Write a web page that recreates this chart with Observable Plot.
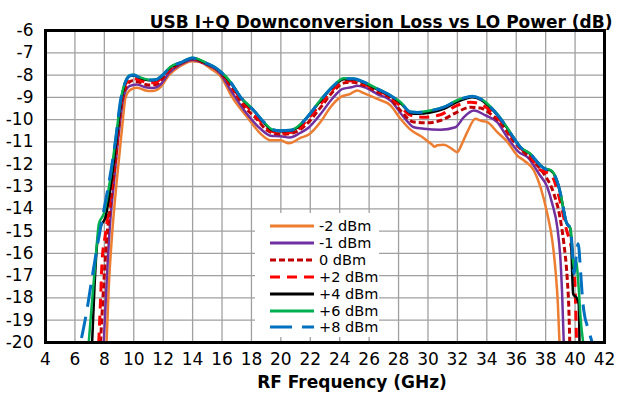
<!DOCTYPE html>
<html>
<head>
<meta charset="utf-8">
<script src="https://cdn.jsdelivr.net/npm/d3@7"></script>
<script src="https://cdn.jsdelivr.net/npm/@observablehq/plot@0.6"></script>
<style>
  html, body { margin: 0; padding: 0; background: white; }
  #wrap { position: relative; width: 620px; height: 400px; font-family: "DejaVu Sans", sans-serif; }
  #legend { position: absolute; left: 255px; top: 213px; width: 124px; height: 124px; background: white; overflow: visible; }
  .row { position: absolute; left: 0; height: 16px; line-height: 16px; font-size: 14.5px; white-space: nowrap; color: black; }
  .row svg { position: absolute; left: 15px; top: 5px; }
  .row span { position: absolute; left: 64px; top: 0; }
</style>
</head>
<body>
<div id="wrap"></div>
<script>
const title = "USB I+Q Downconversion Loss vs LO Power (dB)";
const xLabel = "RF Frequency (GHz)";
const xTicks = [4,6,8,10,12,14,16,18,20,22,24,26,28,30,32,34,36,38,40,42];
const yTicks = [-20,-19,-18,-17,-16,-15,-14,-13,-12,-11,-10,-9,-8,-7,-6];

const seriesNames = ["-2 dBm","-1 dBm","0 dBm","+2 dBm","+4 dBm","+6 dBm","+8 dBm"];

// [frequency GHz, loss dB]
const lossM2 = [[8.15,-20],[8.3,-17.52],[8.53,-15.12],[8.87,-12.58],[9.21,-10.34],[9.44,-9.0],[9.7,-8.7],[9.89,-8.62],[10.23,-8.57],[10.8,-8.69],[11.25,-8.72],[11.82,-8.54],[12.38,-8.02],[13.06,-7.64],[13.97,-7.38],[14.5,-7.42],[15.2,-7.7],[15.9,-8.05],[16.7,-9.0],[17.8,-9.96],[18.63,-10.64],[19.3,-10.93],[19.98,-10.93],[20.54,-11.06],[21.33,-10.82],[21.9,-10.67],[22.69,-10.11],[23.37,-9.44],[24.05,-8.99],[24.73,-8.84],[25.19,-8.69],[25.64,-8.81],[26.55,-9.07],[27.45,-9.36],[28.13,-9.96],[28.81,-10.45],[29.72,-10.83],[30.29,-11.13],[30.45,-11.22],[30.63,-11.15],[31.08,-11.13],[31.6,-11.3],[31.99,-11.46],[32.3,-11.1],[32.67,-10.56],[33.23,-9.96],[33.6,-10.05],[34.03,-10.11],[34.71,-10.56],[35.4,-11.0],[36.07,-11.61],[36.52,-11.83],[37.2,-12.28],[37.65,-13.03],[38.11,-14.22],[38.45,-15.42],[38.67,-16.77],[38.83,-18.26],[38.94,-20]];

const lossM1 = [[7.96,-20],[8.15,-17.37],[8.37,-14.82],[8.64,-12.88],[8.98,-10.64],[9.3,-9.0],[9.7,-8.5],[10.2,-8.42],[10.8,-8.55],[11.3,-8.58],[11.85,-8.4],[12.4,-7.9],[13.1,-7.55],[13.97,-7.32],[14.8,-7.48],[15.9,-7.95],[16.6,-8.7],[17.7,-9.75],[18.6,-10.4],[19.3,-10.72],[20.0,-10.75],[20.6,-10.8],[21.3,-10.6],[21.9,-10.35],[22.7,-9.75],[23.5,-9.05],[24.2,-8.62],[24.8,-8.55],[25.2,-8.48],[25.7,-8.55],[26.55,-8.85],[27.45,-9.14],[28.36,-9.89],[29.04,-10.34],[29.72,-10.41],[30.85,-10.45],[31.87,-10.34],[32.44,-9.89],[33.12,-9.59],[33.91,-9.81],[34.71,-10.11],[35.4,-10.8],[36.18,-11.46],[36.8,-11.7],[37.54,-12.43],[38.11,-13.03],[38.45,-13.78],[38.79,-14.82],[39.01,-16.32],[39.12,-17.82],[39.23,-20]];

const loss0 = [[7.74,-20],[7.96,-17.37],[8.15,-15.42],[8.37,-14.08],[8.76,-11.83],[9.1,-9.6],[9.5,-8.5],[9.9,-8.25],[10.3,-8.3],[11.0,-8.45],[11.5,-8.42],[11.9,-8.2],[12.5,-7.75],[13.3,-7.45],[13.97,-7.27],[14.8,-7.46],[15.9,-7.9],[16.6,-8.5],[17.5,-9.4],[18.4,-10.0],[19.0,-10.45],[19.6,-10.62],[20.3,-10.65],[20.8,-10.6],[21.3,-10.45],[21.9,-10.1],[22.7,-9.45],[23.6,-8.7],[24.3,-8.35],[24.9,-8.32],[25.6,-8.45],[26.55,-8.75],[27.45,-9.05],[28.13,-9.59],[29.04,-10.11],[29.95,-10.14],[30.85,-10.04],[31.99,-9.66],[32.89,-9.44],[33.57,-9.48],[34.25,-9.74],[35.0,-10.2],[35.8,-10.95],[36.5,-11.45],[37.2,-11.9],[37.88,-12.43],[38.56,-13.33],[38.97,-14.37],[39.24,-15.57],[39.46,-17.07],[39.58,-18.56],[39.64,-20]];

const lossP2 = [[7.62,-20],[7.74,-18.11],[7.85,-16.32],[8.08,-15.12],[8.3,-13.93],[8.76,-11.38],[9.1,-9.4],[9.45,-8.4],[9.85,-8.15],[10.3,-8.2],[11.0,-8.35],[11.5,-8.33],[11.9,-8.12],[12.5,-7.7],[13.3,-7.43],[13.97,-7.25],[14.8,-7.45],[15.9,-7.87],[16.6,-8.42],[17.3,-9.1],[18.2,-9.75],[18.9,-10.28],[19.5,-10.55],[20.1,-10.6],[20.7,-10.57],[21.2,-10.42],[21.8,-10.0],[22.7,-9.3],[23.6,-8.6],[24.3,-8.27],[25.0,-8.25],[25.6,-8.38],[26.55,-8.68],[27.45,-8.98],[28.13,-9.4],[28.8,-9.8],[29.72,-9.89],[30.85,-9.78],[31.99,-9.36],[32.89,-9.22],[33.57,-9.3],[34.25,-9.6],[35.0,-10.1],[35.8,-10.85],[36.4,-11.35],[37.0,-11.65],[37.5,-12.2],[38.0,-12.35],[38.4,-12.5],[38.8,-13.2],[39.1,-14.0],[39.4,-14.9],[39.7,-15.6],[39.9,-16.3],[40.0,-17.5],[40.1,-20]];

const lossP4 = [[7.17,-20],[7.33,-17.52],[7.51,-15.57],[7.74,-14.82],[8.08,-14.37],[8.42,-13.03],[8.87,-10.64],[9.15,-9.1],[9.44,-8.32],[9.78,-8.03],[10.0,-8.02],[10.34,-8.1],[11.02,-8.23],[11.48,-8.22],[11.93,-8.03],[12.5,-7.65],[13.29,-7.43],[13.97,-7.24],[14.3,-7.28],[14.88,-7.46],[15.5,-7.66],[15.9,-7.86],[16.58,-8.34],[17.26,-9.0],[18.16,-9.6],[18.84,-10.13],[19.41,-10.47],[19.98,-10.52],[20.66,-10.5],[21.11,-10.36],[21.79,-9.9],[22.69,-9.16],[23.6,-8.49],[24.28,-8.19],[24.96,-8.19],[25.64,-8.34],[26.55,-8.64],[27.45,-8.94],[28.13,-9.25],[28.81,-9.7],[29.27,-9.74],[30.17,-9.68],[31.08,-9.52],[31.99,-9.2],[32.6,-9.05],[33.01,-9.0],[33.57,-9.1],[34.25,-9.46],[34.8,-9.87],[35.3,-10.3],[35.8,-10.8],[36.3,-11.25],[36.97,-11.55],[37.3,-11.8],[37.65,-12.06],[38.0,-12.22],[38.33,-12.28],[38.67,-12.58],[39.01,-13.33],[39.23,-14.08],[39.4,-14.6],[39.69,-14.9],[39.87,-17.82],[40.14,-18.04],[40.25,-18.3],[40.3,-20]];

const lossP6 = [[6.94,-20],[7.17,-18.11],[7.4,-16.32],[7.63,-14.67],[7.96,-14.22],[8.42,-12.58],[8.87,-10.34],[9.15,-9.0],[9.44,-8.28],[9.78,-8.0],[10.0,-7.99],[10.34,-8.08],[11.02,-8.21],[11.48,-8.2],[11.93,-8.01],[12.5,-7.63],[13.29,-7.41],[13.97,-7.22],[14.3,-7.26],[14.88,-7.44],[15.5,-7.64],[15.9,-7.84],[16.58,-8.31],[17.26,-8.98],[18.16,-9.58],[18.84,-10.1],[19.41,-10.44],[19.98,-10.49],[20.66,-10.47],[21.11,-10.33],[21.79,-9.88],[22.69,-9.12],[23.6,-8.45],[24.28,-8.14],[24.96,-8.16],[25.64,-8.31],[26.55,-8.61],[27.45,-8.91],[28.13,-9.21],[28.81,-9.65],[29.27,-9.67],[30.17,-9.59],[31.08,-9.43],[31.99,-9.13],[32.6,-8.99],[33.01,-8.95],[33.57,-9.06],[34.25,-9.42],[34.8,-9.82],[35.3,-10.28],[35.8,-10.78],[36.3,-11.24],[36.97,-11.54],[37.3,-11.79],[37.65,-12.05],[38.0,-12.2],[38.33,-12.26],[38.67,-12.57],[39.01,-13.33],[39.23,-14.08],[39.4,-14.6],[39.69,-14.9],[39.8,-15.72],[39.92,-16.7],[40.05,-16.3],[40.25,-17.6],[40.37,-18.87],[40.55,-20]];

const lossP8 = [[6.45,-19.8],[6.83,-18.49],[7.17,-17.07],[7.51,-15.72],[7.96,-14.08],[8.3,-12.88],[8.76,-10.93],[9.1,-9.14],[9.44,-8.3],[9.78,-8.02],[10.0,-8.0],[10.34,-8.09],[11.02,-8.22],[11.48,-8.21],[11.93,-8.02],[12.5,-7.64],[13.29,-7.42],[13.97,-7.23],[14.3,-7.27],[14.88,-7.45],[15.5,-7.65],[15.9,-7.85],[16.58,-8.32],[17.26,-8.99],[18.16,-9.59],[18.84,-10.11],[19.41,-10.45],[19.98,-10.5],[20.66,-10.48],[21.11,-10.34],[21.79,-9.89],[22.69,-9.14],[23.6,-8.47],[24.28,-8.17],[24.96,-8.17],[25.64,-8.32],[26.55,-8.62],[27.45,-8.92],[28.13,-9.22],[28.81,-9.66],[29.27,-9.68],[30.17,-9.6],[31.08,-9.44],[31.99,-9.14],[32.6,-9.0],[33.01,-8.95],[33.57,-9.07],[34.25,-9.44],[34.8,-9.85],[35.3,-10.3],[35.8,-10.8],[36.3,-11.25],[36.97,-11.55],[37.3,-11.8],[37.65,-12.06],[38.0,-12.22],[38.33,-12.28],[38.67,-12.58],[39.01,-13.33],[39.23,-14.08],[39.4,-14.6],[39.69,-14.9],[39.8,-15.72],[39.92,-16.91],[40.21,-15.57],[40.37,-16.77],[40.48,-17.82],[40.59,-18.56],[40.93,-19.46],[41.16,-20]];

const seriesData = [lossM2, lossM1, loss0, lossP2, lossP4, lossP6, lossP8];
const colors = ["#ED7D31","#7030A0","#C00000","#FF0000","#000000","#00B050","#0070C0"];
const dashes = [null, null, "6,3", "10,7", null, null, "22,10"];
const widths = [2.5, 2.5, 3, 3, 2.5, 2.5, 3];

const lineMarks = seriesData.map((d, i) => Plot.line(d, {
  x: p => p[0], y: p => p[1],
  stroke: colors[i], strokeWidth: widths[i],
  strokeDasharray: dashes[i] ?? undefined,
  strokeLinejoin: "round", strokeLinecap: "butt",
  curve: "monotone-x", clip: true
}));

const chart = Plot.plot({
  width: 620, height: 400,
  marginLeft: 45, marginRight: 16, marginTop: 30, marginBottom: 58,
  style: { fontFamily: "DejaVu Sans", fontSize: "17px", color: "black", background: "white" },
  x: { domain: [4, 42] },
  y: { domain: [-20, -6] },
  marks: [
    Plot.gridX(xTicks, { stroke: "#a0a0a0", strokeOpacity: 1, strokeWidth: 1.3 }),
    Plot.gridY(yTicks, { stroke: "#a0a0a0", strokeOpacity: 1, strokeWidth: 1.3 }),
    Plot.axisX(xTicks, { tickSize: 0, tickPadding: 10, label: null, fontSize: 17, tickFormat: d => String(d) }),
    Plot.axisY(yTicks, { tickSize: 0, tickPadding: 12, label: null, fontSize: 17, tickFormat: d => String(d) }),
    ...lineMarks,
    Plot.frame({ stroke: "black", strokeWidth: 3 }),
    Plot.text([title], { text: d => d, frameAnchor: "top-right", dx: 8, dy: -15, fontWeight: "bold", fontSize: 17 }),
    Plot.text([xLabel], { text: d => d, frameAnchor: "bottom", dx: 27, dy: 45, fontWeight: "bold", fontSize: 17 })
  ]
});

const wrap = document.getElementById("wrap");
wrap.appendChild(chart);

// Legend
const legend = document.createElement("div");
legend.id = "legend";
seriesNames.forEach((name, i) => {
  const row = document.createElement("div");
  row.className = "row";
  row.style.top = (226 + 16.9 * i - 213 - 8) + "px";
  const dash = dashes[i] ? ` stroke-dasharray="${dashes[i]}"` : "";
  row.innerHTML = `<svg width="44" height="6"><line x1="0" y1="3" x2="44" y2="3" stroke="${colors[i]}" stroke-width="3"${dash}/></svg><span>${name}</span>`;
  legend.appendChild(row);
});
wrap.appendChild(legend);
</script>
</body>
</html>
